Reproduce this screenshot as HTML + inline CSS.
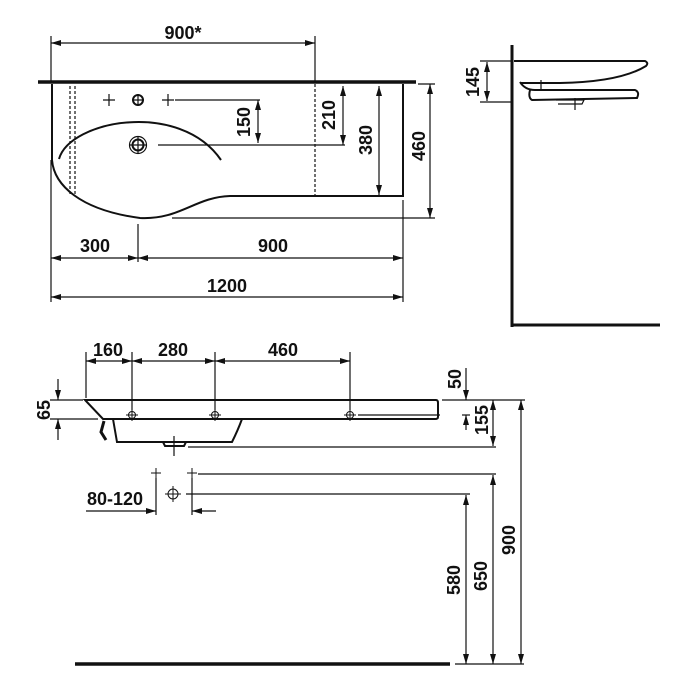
<!DOCTYPE html>
<html><head><style>
html,body{margin:0;padding:0;background:#fff;}
svg{display:block;}
text{font-family:"Liberation Sans Narrow","Liberation Sans",sans-serif;font-weight:bold;font-size:18px;fill:#111;}
</style></head><body>
<svg width="700" height="700" viewBox="0 0 700 700" xmlns="http://www.w3.org/2000/svg">
<defs>
<marker id="a" viewBox="0 0 10 6" refX="10" refY="3" markerWidth="10" markerHeight="6" markerUnits="userSpaceOnUse" orient="auto-start-reverse"><path d="M0,0L10,3L0,6z" fill="#111"/></marker>
</defs>
<g stroke="#111" fill="none" stroke-width="1.2">
<!-- TOP VIEW -->
<line x1="38" y1="82" x2="416" y2="82" stroke-width="3.5"/>
<path d="M52,84 L52,160 C54,185 80,210 140,218 C180,220 195,197 230,196 L403,196 L403,84" stroke-width="2"/>
<path d="M59,159 C70,120 180,100 221,160" stroke-width="2"/>
<line x1="70" y1="86" x2="70" y2="196" stroke-dasharray="3,2"/>
<line x1="75" y1="86" x2="75" y2="196" stroke-dasharray="3,2"/>
<line x1="315" y1="84" x2="315" y2="196" stroke-dasharray="3,2"/>
<!-- holes -->
<path d="M103,100h12M109,94v12M162,100h12M168,94v12M132,100h12M138,94v12M130,145h16M138,137v16"/>
<circle cx="138" cy="100" r="5" stroke-width="2"/>
<circle cx="138" cy="145" r="5.5" stroke-width="2"/>
<circle cx="138" cy="145" r="8.5"/>
<line x1="175" y1="100" x2="260" y2="100"/>
<line x1="158" y1="145" x2="345" y2="145"/>
<line x1="258" y1="100" x2="258" y2="143" marker-start="url(#a)" marker-end="url(#a)"/>
<line x1="343" y1="86" x2="343" y2="145" marker-start="url(#a)" marker-end="url(#a)"/>
<line x1="379" y1="86" x2="379" y2="195" marker-start="url(#a)" marker-end="url(#a)"/>
<line x1="418" y1="84" x2="435" y2="84"/>
<line x1="172" y1="218" x2="435" y2="218"/>
<line x1="430" y1="84" x2="430" y2="218" marker-start="url(#a)" marker-end="url(#a)"/>
<!-- 900* -->
<line x1="51" y1="36" x2="51" y2="82"/>
<line x1="315" y1="36" x2="315" y2="82"/>
<line x1="51" y1="43" x2="315" y2="43" marker-start="url(#a)" marker-end="url(#a)"/>
<!-- bottom dims -->
<line x1="51" y1="160" x2="51" y2="302"/>
<line x1="138" y1="224" x2="138" y2="262"/>
<line x1="403" y1="200" x2="403" y2="302"/>
<line x1="51" y1="258" x2="138" y2="258" marker-start="url(#a)" marker-end="url(#a)"/>
<line x1="138" y1="258" x2="403" y2="258" marker-start="url(#a)" marker-end="url(#a)"/>
<line x1="51" y1="297" x2="403" y2="297" marker-start="url(#a)" marker-end="url(#a)"/>
<!-- SIDE VIEW -->
<line x1="512" y1="45" x2="512" y2="327" stroke-width="3"/>
<line x1="511" y1="325" x2="660" y2="325" stroke-width="3"/>
<path d="M514,61 L645,61 Q649,63 646,66 Q620,82 560,83 L520,83" stroke-width="2"/>
<path d="M520,82 Q525,90 535,90 L635,90 Q640,92 637,98 L532,100 Q528,98 530,90" stroke-width="2"/>
<path d="M556,100 L584,100 L582,104 L558,104" />
<line x1="541" y1="80" x2="541" y2="90"/>
<line x1="575" y1="98" x2="575" y2="110"/>
<line x1="480" y1="61" x2="512" y2="61"/>
<line x1="480" y1="102" x2="512" y2="102"/>
<line x1="487" y1="62" x2="487" y2="101" marker-start="url(#a)" marker-end="url(#a)"/>
<!-- FRONT VIEW -->
<path d="M85,400 L436,400 Q438,400 438,403 L438,417 Q438,419 435,419 L103,419 Z" stroke-width="2"/>
<path d="M113,419 L117,442 L232,442 Q238,430 242,419" stroke-width="2"/>
<path d="M104,421 L101,432 L106,440" stroke-width="3"/>
<path d="M163,442 L165,446 L184,446 L186,442" stroke-width="2"/>
<line x1="174" y1="436" x2="174" y2="456"/>
<g stroke-width="1">
<path d="M126,415h12M132,409v12M209,415h12M215,409v12M344,415h12M350,409v12"/>
<circle cx="132" cy="415" r="3.5"/><circle cx="215" cy="415" r="3.5"/><circle cx="350" cy="415" r="3.5"/>
<path d="M151,473h10M156,468v10M187,473h10M192,468v10M165,494h16M173,486v16"/>
<circle cx="173" cy="494" r="5"/>
</g>
<line x1="358" y1="415" x2="440" y2="415"/>
<line x1="86" y1="352" x2="86" y2="398"/>
<line x1="132" y1="352" x2="132" y2="410"/>
<line x1="215" y1="352" x2="215" y2="410"/>
<line x1="350" y1="352" x2="350" y2="410"/>
<line x1="86" y1="361" x2="132" y2="361" marker-start="url(#a)" marker-end="url(#a)"/>
<line x1="132" y1="361" x2="215" y2="361" marker-start="url(#a)" marker-end="url(#a)"/>
<line x1="215" y1="361" x2="350" y2="361" marker-start="url(#a)" marker-end="url(#a)"/>
<!-- 65 -->
<line x1="50" y1="400" x2="83" y2="400"/>
<line x1="50" y1="419" x2="98" y2="419"/>
<line x1="58" y1="379" x2="58" y2="400" marker-end="url(#a)"/>
<line x1="58" y1="440" x2="58" y2="419" marker-end="url(#a)"/>
<!-- right dims -->
<line x1="442" y1="400" x2="525" y2="400"/>
<line x1="188" y1="447" x2="496" y2="447"/>
<line x1="198" y1="474" x2="496" y2="474"/>
<line x1="186" y1="494" x2="470" y2="494"/>
<line x1="466" y1="368" x2="466" y2="400" marker-end="url(#a)"/>
<line x1="466" y1="430" x2="466" y2="415" marker-end="url(#a)"/>
<line x1="462" y1="415" x2="470" y2="415"/>
<line x1="493" y1="400" x2="493" y2="446" marker-start="url(#a)" marker-end="url(#a)"/>
<line x1="521" y1="400" x2="521" y2="664" marker-start="url(#a)" marker-end="url(#a)"/>
<line x1="493" y1="475" x2="493" y2="664" marker-start="url(#a)" marker-end="url(#a)"/>
<line x1="466" y1="495" x2="466" y2="664" marker-start="url(#a)" marker-end="url(#a)"/>
<line x1="75" y1="664" x2="450" y2="664" stroke-width="3.5"/>
<line x1="455" y1="664" x2="524" y2="664"/>
<!-- 80-120 -->
<line x1="156" y1="478" x2="156" y2="515"/>
<line x1="192" y1="478" x2="192" y2="515"/>
<line x1="86" y1="511" x2="156" y2="511" marker-end="url(#a)"/>
<line x1="216" y1="511" x2="192" y2="511" marker-end="url(#a)"/>
</g>
<!-- texts -->
<text x="183" y="39" text-anchor="middle">900*</text>
<text x="95" y="252" text-anchor="middle">300</text>
<text x="273" y="252" text-anchor="middle">900</text>
<text x="227" y="292" text-anchor="middle">1200</text>
<text transform="translate(250,122) rotate(-90)" text-anchor="middle">150</text>
<text transform="translate(335,115) rotate(-90)" text-anchor="middle">210</text>
<text transform="translate(372,140) rotate(-90)" text-anchor="middle">380</text>
<text transform="translate(425,146) rotate(-90)" text-anchor="middle">460</text>
<text transform="translate(479,82) rotate(-90)" text-anchor="middle">145</text>
<text x="108" y="356" text-anchor="middle">160</text>
<text x="173" y="356" text-anchor="middle">280</text>
<text x="283" y="356" text-anchor="middle">460</text>
<text transform="translate(50,410) rotate(-90)" text-anchor="middle">65</text>
<text transform="translate(461,379) rotate(-90)" text-anchor="middle">50</text>
<text transform="translate(488,420) rotate(-90)" text-anchor="middle">155</text>
<text transform="translate(515,540) rotate(-90)" text-anchor="middle">900</text>
<text transform="translate(487,576) rotate(-90)" text-anchor="middle">650</text>
<text transform="translate(460,580) rotate(-90)" text-anchor="middle">580</text>
<text x="115" y="505" text-anchor="middle">80-120</text>
</svg>
</body></html>
